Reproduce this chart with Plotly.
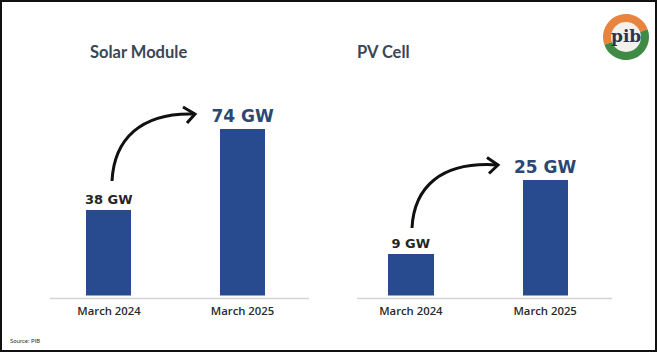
import plotly.graph_objects as go
import math

W, H = 657, 352

# ---- data ----
categories = ["March 2024", "March 2025"]
solar_module_gw = [38, 74]
pv_cell_gw = [9, 25]
panel_titles = ["Solar Module", "PV Cell"]
source_text = "Source: PIB"

def px(x):
    return x / W

def py(y):
    return 1 - y / H

BAR_COLOR = "#284a8e"
label_colors = ["#262626", "#2c4772"]
label_sizes = [13, 17]
LABEL_FONT = "DejaVu Sans"

fig = go.Figure()

fig.add_trace(go.Bar(
    x=categories, y=solar_module_gw, xaxis="x", yaxis="y",
    marker=dict(color=BAR_COLOR, line=dict(width=0)),
    width=0.337,
    texttemplate="<b>%{y} GW</b>", textposition="outside", constraintext="none",
    textfont=dict(size=label_sizes, color=label_colors, family=LABEL_FONT),
    cliponaxis=False, hoverinfo="skip",
))
fig.add_trace(go.Bar(
    x=categories, y=pv_cell_gw, xaxis="x2", yaxis="y2",
    marker=dict(color=BAR_COLOR, line=dict(width=0)),
    width=0.338,
    texttemplate="<b>%{y} GW</b>", textposition="outside", constraintext="none",
    textfont=dict(size=label_sizes, color=label_colors, family=LABEL_FONT),
    cliponaxis=False, hoverinfo="skip",
))

tickfont = dict(size=11.3, color="#2a2a2a", family="Open Sans", weight=600)
common_x = dict(type="category", range=[-0.5, 1.5], showgrid=False, zeroline=False,
                showline=False, ticks="", tickfont=tickfont, fixedrange=True,
                ticklabelstandoff=7)
common_y = dict(showgrid=False, zeroline=False, showline=False, showticklabels=False,
                ticks="", fixedrange=True)

fig.update_layout(
    width=W, height=H,
    margin=dict(l=0, r=0, t=0, b=0),
    paper_bgcolor="white", plot_bgcolor="rgba(0,0,0,0)",
    showlegend=False,
    bargap=0,
    xaxis=dict(domain=[px(42.25), px(309.25)], anchor="y", **common_x),
    yaxis=dict(domain=[py(295.5), py(115.9)], range=[0, 80], anchor="x", **common_y),
    xaxis2=dict(domain=[px(343.75), px(612.25)], anchor="y2", **common_x),
    yaxis2=dict(domain=[py(295.5), py(156.9)], range=[0, 30], anchor="x2", **common_y),
)

shapes = []
# baselines
shapes.append(dict(type="line", xref="paper", yref="paper", x0=px(50), x1=px(309),
                   y0=py(298.5), y1=py(298.5), line=dict(color="#d4d4d4", width=1.5)))
shapes.append(dict(type="line", xref="paper", yref="paper", x0=px(357), x1=px(612),
                   y0=py(298.5), y1=py(298.5), line=dict(color="#d4d4d4", width=1.5)))

def ppath(cmds):
    out = []
    for c in cmds:
        if isinstance(c, str):
            out.append(c)
        else:
            out.append(f"{px(c[0]):.5f},{py(c[1]):.5f}")
    return " ".join(out)

# curved arrows: start, ctrl1, ctrl2, tip, upper arm, lower arm
for (start, c1, c2, tip, up, lo) in [
    ((112, 181), (114, 140), (140, 112), (195, 114), (183, 107), (187, 123)),
    ((412, 228), (414, 188), (440, 161), (498, 165), (487, 157.5), (489, 173.5)),
]:
    shapes.append(dict(type="path", xref="paper", yref="paper",
                       path=ppath(["M", start, "C", c1, c2, tip]),
                       line=dict(color="#111111", width=3)))
    shapes.append(dict(type="path", xref="paper", yref="paper",
                       path=ppath(["M", up, "L", tip, "L", lo]),
                       line=dict(color="#111111", width=3)))

# border frame
shapes.append(dict(type="rect", xref="paper", yref="paper", x0=0, x1=1, y0=0, y1=1,
                   line=dict(color="#111111", width=4), fillcolor="rgba(0,0,0,0)"))

# logo (decorative)
cx, cy, r = 626, 37, 23
def arc(a0, a1, n=30):
    pts = []
    for i in range(n + 1):
        a = math.radians(a0 + (a1 - a0) * i / n)
        pts.append((cx + r * math.cos(a), cy - r * math.sin(a)))
    return pts
top = arc(20, 200)
bot = arc(200, 380)
shapes.append(dict(type="path", xref="paper", yref="paper",
                   path=ppath(["M", (cx, cy)] + sum([["L", p] for p in top], []) + ["Z"]),
                   fillcolor="#e8843e", line=dict(width=0)))
shapes.append(dict(type="path", xref="paper", yref="paper",
                   path=ppath(["M", (cx, cy)] + sum([["L", p] for p in bot], []) + ["Z"]),
                   fillcolor="#3f8a45", line=dict(width=0)))
shapes.append(dict(type="circle", xref="paper", yref="paper",
                   x0=px(cx - 15), x1=px(cx + 15), y0=py(cy + 15), y1=py(cy - 15),
                   fillcolor="#f4f1ec", line=dict(width=0)))
fig.update_layout(shapes=shapes)

title_font = dict(size=16.5, color="#3a4656", family="Lato")
annotations = [
    dict(text=f"<b>{panel_titles[0]}</b>", x=px(138), y=py(52), xref="paper", yref="paper",
         xanchor="center", yanchor="middle", showarrow=False, font=title_font),
    dict(text=f"<b>{panel_titles[1]}</b>", x=px(383), y=py(52), xref="paper", yref="paper",
         xanchor="center", yanchor="middle", showarrow=False, font=title_font),
    dict(text=source_text, x=px(8), y=py(340), xref="paper", yref="paper",
         xanchor="left", yanchor="middle", showarrow=False,
         font=dict(size=6, color="#333333", family="Lato")),
    dict(text="<b>pib</b>", x=px(cx), y=py(cy - 1), xref="paper", yref="paper",
         xanchor="center", yanchor="middle", showarrow=False,
         font=dict(size=17, color="#2b3550", family="DejaVu Serif")),
]
fig.update_layout(annotations=annotations)

fig.write_html("out.html")
